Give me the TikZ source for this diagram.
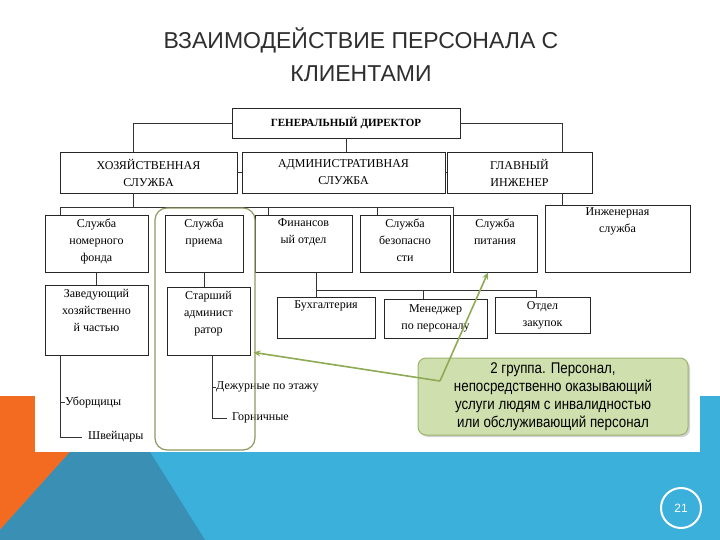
\documentclass[tikz,border=0pt]{standalone}
\usepackage{fontspec}
\setmainfont{Liberation Serif}
\newfontfamily\sansf{Liberation Sans}
\newfontfamily\narrowf[FakeStretch=0.86]{Liberation Sans}
\usetikzlibrary{shadows,arrows.meta}
\definecolor{orng}{HTML}{F26B21}
\definecolor{lblue}{HTML}{3AB0DB}
\definecolor{dblue}{HTML}{3A8FB5}
\definecolor{olivebox}{HTML}{8C9A60}
\definecolor{callfill}{HTML}{CFDFAE}
\definecolor{calldraw}{HTML}{9BB56A}
\definecolor{arrowg}{HTML}{8EAA55}
\tikzset{
 bx/.style={draw=black!85,line width=0.8pt,inner sep=0pt},
 tx/.style={align=center,font=\fontsize{12}{17}\selectfont,inner sep=0pt},
 ln/.style={draw=black!80,line width=0.7pt},
 ga/.style={draw=arrowg,line width=1.6pt,-{Stealth[length=7pt,width=6pt]}}
}
\begin{document}
\begin{tikzpicture}[x=1pt,y=-1pt]
\useasboundingbox (0,0) rectangle (720,540);
\fill[white] (0,0) rectangle (720,540);
% bottom decoration
\fill[lblue] (0,396) rectangle (720,540);
\fill[orng] (0,396) -- (90,396) -- (90,452) -- (70,452) -- (0,530) -- cycle;
\fill[dblue] (70,452) -- (150,452) -- (205,540) -- (0,540) -- (0,530) -- cycle;
\fill[white] (35,95) rectangle (700,452);
\node[circle,draw=white,line width=2pt,minimum size=40pt,text=white,font=\sansf\fontsize{12}{12}\selectfont] (pg) at (681,508) {21};
% title
\node[font=\sansf\fontsize{23}{33}\selectfont,text=black!82,align=center] (title) at (361,55) {ВЗАИМОДЕЙСТВИЕ ПЕРСОНАЛА С\\КЛИЕНТАМИ};
% boxes
\node[bx,minimum width=228,minimum height=30,font=\bfseries\fontsize{11}{13}\selectfont] (gen) at (346,123) {ГЕНЕРАЛЬНЫЙ ДИРЕКТОР};
\node[bx,minimum width=177,minimum height=41,tx] (hoz) at (148.5,172.5) {ХОЗЯЙСТВЕННАЯ\\СЛУЖБА};
\node[bx,minimum width=203,minimum height=41,tx] (adm) at (343.5,172.5) {АДМИНИСТРАТИВНАЯ\\СЛУЖБА};
\node[bx,minimum width=145,minimum height=41,tx] (glav) at (519.5,172.5) {ГЛАВНЫЙ\\ИНЖЕНЕР};
\node[bx,minimum width=103,minimum height=57] (b1) at (96.5,243.5) {};
\node[bx,minimum width=78,minimum height=57] (b2) at (204,243.5) {};
\node[bx,minimum width=97,minimum height=57] (b3) at (303.5,243.5) {};
\node[bx,minimum width=90,minimum height=57] (b4) at (405,243.5) {};
\node[bx,minimum width=84,minimum height=57] (b5) at (495,243.5) {};
\node[bx,minimum width=145,minimum height=67] (b6) at (617.5,238.5) {};
\node[tx,anchor=north] (t1) at ([yshift=-4]b1.north) {Служба\\номерного\\фонда};
\node[tx,anchor=north] (t2) at ([yshift=-4]b2.north) {Служба\\приема};
\node[tx,anchor=north] (t3) at ([yshift=-4]b3.north) {Финансов\\ый отдел};
\node[tx,anchor=north] (t4) at ([yshift=-4]b4.north) {Служба\\безопасно\\сти};
\node[tx,anchor=north] (t5) at ([yshift=-4]b5.north) {Служба\\питания};
\node[tx,anchor=north] (t6) at ([yshift=-3]b6.north) {Инженерная\\служба};
\node[bx,minimum width=103,minimum height=70] (z) at (96.5,320) {};
\node[tx,anchor=north] (tz) at ([yshift=-4]z.north) {Заведующий\\хозяйственно\\й частью};
\node[bx,minimum width=83,minimum height=68] (s) at (208.5,321) {};
\node[tx,anchor=north] (ts) at ([yshift=-4]s.north) {Старший\\админист\\ратор};
\node[bx,minimum width=98,minimum height=41] (buh) at (326,317.5) {};
\node[tx,anchor=north] (tbuh) at ([yshift=-4]buh.north) {Бухгалтерия};
\node[bx,minimum width=103,minimum height=39,tx] (men) at (435.5,318.5) {Менеджер\\по персоналу};
\node[bx,minimum width=95,minimum height=36,tx] (otd) at (542.5,315) {Отдел\\закупок};
% connectors
\draw[ln] (gen.west) -| ([xshift=-15.5]hoz.north);
\draw[ln] (gen.east) -| ([xshift=42.5]glav.north);
\draw[ln] (gen.south) -- (gen.south |- adm.north);
\draw[ln] (hoz.east) -- (adm.west);
\draw[ln] (adm.east) -- (glav.west);
\coordinate (busL) at (60,207);
\coordinate (busR) at (453,207);
\draw[ln] ([xshift=-15.5]hoz.south) -- ([xshift=-15.5]hoz.south |- busL);
\draw[ln] (busL) -- (busR);
\draw[ln] (busL) -- (busL |- b1.north);
\draw[ln] (268,207) -- (268,215);
\draw[ln] (377,207) -- (377,215);
\draw[ln] (busR) -- (busR |- b5.north);
\draw[ln] ([xshift=42.5]glav.south) -- ([xshift=42.5]glav.south |- b6.north);
\draw[ln] (b1.south) -- (z.north);
\draw[ln] (b2.south) -- (b2.south |- s.north);
\coordinate (fb) at (316,290);
\draw[ln] (b3.south -| fb) -- (fb) -- (536,290);
\draw[ln] (fb) -- (fb |- buh.north);
\draw[ln] (423,290) -- (423,290 |- men.north);
\draw[ln] (536,290) -- (536,290 |- otd.north);
% trees
\node[tx,anchor=west] (ub) at (65,402) {Уборщицы};
\node[tx,anchor=west] (sh) at (88,437) {Швейцары};
\draw[ln] ([xshift=-36.5]z.south) -- (60,437) -- (82,437);
\draw[ln] (60,402) -- (ub.west);
\node[tx,anchor=west] (dj) at (216,387) {Дежурные по этажу};
\node[tx,anchor=west] (gr) at (232,418) {Горничные};
\draw[ln] (212,355) -- (212,418) -- (227,418);
\draw[ln] (212,387) -- (dj.west);
% group outline
\node[draw=olivebox,line width=1.2pt,rounded corners=12pt,minimum width=100,minimum height=242] (grp) at (205,329) {};
% callout
\node[draw=calldraw,line width=1pt,fill=callfill,rounded corners=8pt,minimum width=270,minimum height=77,drop shadow={shadow xshift=2pt,shadow yshift=-2pt,opacity=0.35},align=center,font=\narrowf\fontsize{15.5}{18}\selectfont] (co) at (553,396.5) {2 группа. Персонал,\\непосредственно оказывающий\\услуги людям с инвалидностью\\или обслуживающий персонал};
\coordinate (cs) at (440,381);
\draw[ga] (cs) -- ([xshift=3,yshift=3]s.south east);
\draw[ga] (cs) -- ([xshift=-7]b5.south);
\end{tikzpicture}
\end{document}
